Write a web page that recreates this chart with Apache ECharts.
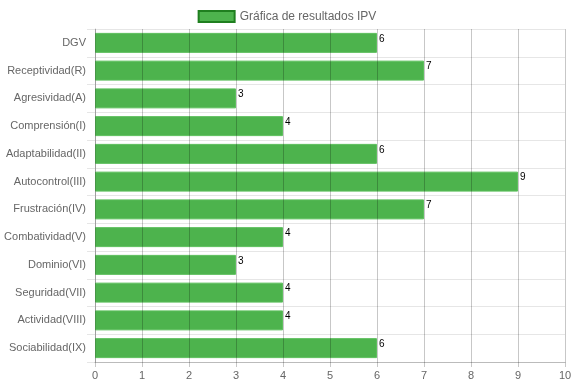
<!DOCTYPE html>
<html><head><meta charset="utf-8">
<script src="https://cdn.jsdelivr.net/npm/echarts@6/dist/echarts.min.js"></script>
<style>html,body{margin:0;padding:0;background:#fff}#c{width:574px;height:386px}</style>
</head><body><div id="c"></div>
<script>
const categories = ["DGV","Receptividad(R)","Agresividad(A)","Comprensión(I)","Adaptabilidad(II)","Autocontrol(III)","Frustración(IV)","Combatividad(V)","Dominio(VI)","Seguridad(VII)","Actividad(VIII)","Sociabilidad(IX)"];
const values = [6,7,3,4,6,9,7,4,3,4,4,6];
const seriesName = "Gráfica de resultados IPV";
const chart = echarts.init(document.getElementById('c'));
chart.setOption({
  animation:false,
  textStyle:{fontFamily:'Arial, "Liberation Sans", sans-serif'},
  legend:{top:5,left:'center',itemWidth:36,itemHeight:11,itemGap:8,
    textStyle:{color:'#666',fontSize:12,fontFamily:'Arial, "Liberation Sans", sans-serif'},
    data:[{name:seriesName,icon:'rect',itemStyle:{color:'#4db34d',borderColor:'#1f7f1f',borderWidth:2}}]},
  grid:{left:95,right:9,top:29,bottom:24,containLabel:false,outerBoundsMode:'none'},
  xAxis:{type:'value',min:0,max:10,interval:1,z:3,
    axisLine:{show:true,lineStyle:{color:'#bbb'}},
    axisTick:{show:true,length:5,lineStyle:{color:'rgba(0,0,0,0.22)'}},
    axisLabel:{color:'#666',fontSize:11,margin:8},
    splitLine:{show:true,lineStyle:{color:'rgba(0,0,0,0.22)'}}},
  yAxis:{type:'category',data:categories,inverse:true,
    axisLine:{show:true,lineStyle:{color:'#ccc'}},
    axisTick:{show:true,length:8,lineStyle:{color:'#e6e6e6'}},
    axisLabel:{color:'#666',fontSize:11,margin:9},
    splitLine:{show:true,lineStyle:{color:'#e6e6e6'}}},
  series:[{name:seriesName,type:'bar',data:values,barWidth:'72%',
    itemStyle:{color:'#4db34d',borderColor:'#5cbf5c',borderWidth:1},
    label:{show:true,position:['100%',0],align:'left',verticalAlign:'top',offset:[2,1],color:'#000',fontSize:10}}]
});
</script></body></html>
